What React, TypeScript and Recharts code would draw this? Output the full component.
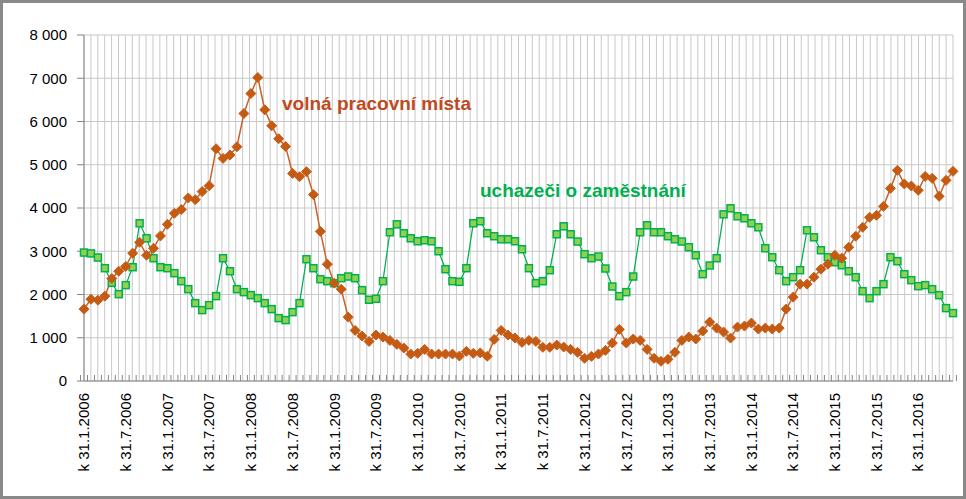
import React from 'react'
import {LineChart, Line, XAxis, YAxis, CartesianGrid} from 'recharts'

// uchazeči o zaměstnání, měsíčně od 1/2006
const uchazeci = [
  2970, 2950, 2855, 2608, 2270, 2008, 2216, 2631, 3647, 3300, 2839, 2631,
  2608, 2493, 2308, 2123, 1800, 1639, 1754, 1962, 2839, 2539, 2123, 2054,
  1985, 1916, 1800, 1662, 1454, 1408, 1592, 1800, 2816, 2608, 2354, 2308,
  2262, 2377, 2416, 2377, 2100, 1878, 1901, 2308, 3439, 3623, 3416, 3300,
  3231, 3254, 3231, 3000, 2585, 2308, 2293, 2608, 3647, 3693, 3416, 3347,
  3277, 3277, 3231, 3046, 2608, 2262, 2308, 2562, 3393, 3577, 3393, 3224,
  2931, 2839, 2878, 2601, 2185, 1962, 2054, 2416, 3439, 3600, 3439, 3439,
  3347, 3277, 3224, 3093, 2908, 2470, 2670, 2839, 3854, 3993, 3808, 3762,
  3647, 3554, 3069, 2862, 2562, 2308, 2400, 2562, 3485, 3323, 3023, 2862,
  2746, 2677, 2539, 2400, 2077, 1916, 2077, 2239, 2862, 2770, 2470, 2331,
  2193, 2216, 2123, 1985, 1685, 1570
]

// volná pracovní místa
const volnaMista = [
  1662, 1892, 1869, 1962, 2370, 2539, 2647, 2954, 3208, 2908, 3069, 3355,
  3623, 3877, 3965, 4232, 4193, 4380, 4516, 5370, 5147, 5224, 5416, 6185,
  6647, 7016, 6270, 5901, 5601, 5424, 4800, 4724, 4840, 4309, 3458, 2700,
  2262, 2123, 1477, 1170, 1039, 916, 1062, 1016, 939, 847, 762, 623,
  639, 731, 623, 623, 623, 623, 577, 685, 639, 650, 570, 962,
  1170, 1062, 993, 893, 939, 916, 778, 778, 831, 785, 731, 662,
  524, 570, 623, 708, 878, 1193, 878, 970, 939, 731, 524, 455,
  501, 662, 939, 1016, 970, 1154, 1362, 1223, 1131, 993, 1246, 1270,
  1339, 1200, 1223, 1200, 1223, 1662, 1939, 2239, 2239, 2400, 2585, 2700,
  2908, 2839, 3093, 3347, 3554, 3785, 3831, 4039, 4454, 4870, 4555, 4509,
  4408, 4731, 4685, 4270, 4639, 4847
]

const yTicks = [0, 1000, 2000, 3000, 4000, 5000, 6000, 7000, 8000]

// k poslednímu dni v měsíci
const mesice: string[] = []
for (let i = 0; i < uchazeci.length; i++) {
  const rok = 2006 + Math.floor(i / 12)
  const m = (i % 12) + 1
  mesice.push(`k ${new Date(rok, m, 0).getDate()}.${m}.${rok}`)
}

const data = mesice.map((mesic, i) => ({
  mesic,
  uchazeci: uchazeci[i],
  volna: volnaMista[i]
}))

const W = 966
const H = 499
const margin = {top: 35, right: 13, bottom: 18, left: 8}
const Y_W = 76
const plotW = W - margin.left - margin.right - Y_W
const step = plotW / mesice.length

const fmt = (v: number) => String(v).replace(/\B(?=(\d{3})+(?!\d))/g, ' ')

const XTick = (props: any) => {
  const {x, y, payload} = props
  const i = props.index ?? payload.index
  const half = step / 2
  return (
    <g>
      <line x1={x - half} x2={x - half} y1={y - 6} y2={y} stroke='#868686' />
      {i === mesice.length - 1 && <line x1={x + half} x2={x + half} y1={y - 6} y2={y} stroke='#868686' />}
      {i % 6 === 0 && (
        <text transform={`translate(${x},${y + 12}) rotate(-90)`} textAnchor='end' dy='0.35em' fontSize={15} fill='#000'>
          {payload.value}
        </text>
      )}
    </g>
  )
}

const Ctverec = (props: any) => {
  const {cx, cy} = props
  if (cx == null || cy == null) return null
  return <rect x={cx - 3.5} y={cy - 3.5} width={7} height={7} fill='#92D050' stroke='#00B050' strokeWidth={1.5} />
}

const Kosoctverec = (props: any) => {
  const {cx, cy} = props
  if (cx == null || cy == null) return null
  const r = 5
  return <polygon points={`${cx},${cy - r} ${cx + r},${cy} ${cx},${cy + r} ${cx - r},${cy}`} fill='#C55A11' stroke='#C85E1F' strokeWidth={1} />
}

export default function App() {
  return (
    <div style={{position: 'absolute', left: 0, top: 0, width: W, height: H, background: '#fff', fontFamily: "'Liberation Sans', Arial, sans-serif"}}>
      <LineChart width={W} height={H} data={data} margin={margin}>
        <CartesianGrid
          stroke='#C8C8C8'
          verticalCoordinatesGenerator={({offset}: any) =>
            mesice.map((_, i) => offset.left + i * (offset.width / mesice.length)).concat(offset.left + offset.width)
          }
        />
        <XAxis
          dataKey='mesic'
          interval={0}
          height={100}
          tickLine={false}
          tickSize={0}
          tickMargin={0}
          axisLine={{stroke: '#868686'}}
          tick={<XTick />}
        />
        <YAxis
          width={Y_W}
          domain={[0, 8000]}
          ticks={yTicks}
          tickFormatter={fmt}
          axisLine={{stroke: '#868686'}}
          tickLine={{stroke: '#868686'}}
          tickSize={7}
          tickMargin={10}
          tick={{fill: '#000', fontSize: 15}}
        />
        <Line type='linear' dataKey='uchazeci' stroke='#00B050' strokeWidth={1.25} dot={<Ctverec />} activeDot={false} isAnimationActive={false} />
        <Line type='linear' dataKey='volna' stroke='#C96224' strokeWidth={1.5} dot={<Kosoctverec />} activeDot={false} isAnimationActive={false} />
      </LineChart>
      <div style={{position: 'absolute', left: 282, top: 94, fontSize: 19, lineHeight: 1, fontWeight: 'bold', color: '#BE4A1E', whiteSpace: 'nowrap'}}>
        volná pracovní místa
      </div>
      <div style={{position: 'absolute', left: 480, top: 181, fontSize: 19, lineHeight: 1, fontWeight: 'bold', color: '#00B050', whiteSpace: 'nowrap'}}>
        uchazeči o zaměstnání
      </div>
      <div style={{position: 'absolute', left: 0, top: 0, width: W, height: H, boxSizing: 'border-box', border: '3px solid #898989', pointerEvents: 'none'}} />
    </div>
  )
}
